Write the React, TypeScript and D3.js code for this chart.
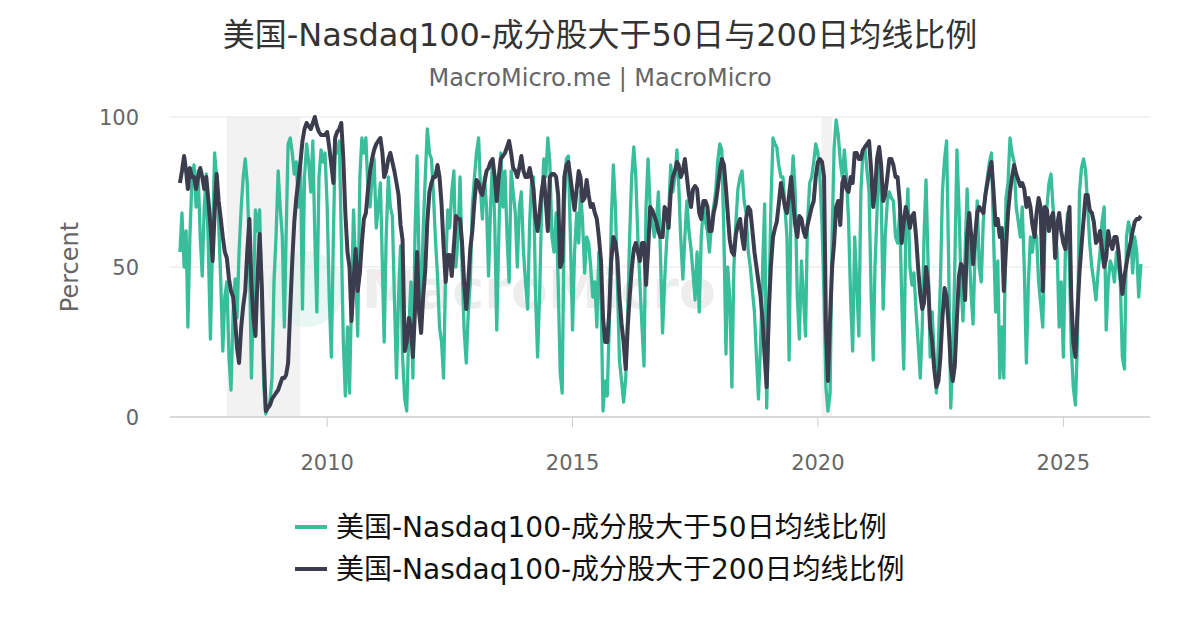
import * as d3 from 'd3';

// both series sampled twice a month from Jan 2007 (the 1st and the 16th)
const above50 = [
  55, 68, 50, 62, 30, 60, 80, 84, 70, 82, 60, 47, 70, 81, 55, 26, 60, 88, 80, 65, 45, 22, 40, 45,
  20, 9, 35, 46, 33, 55, 70, 80, 86, 78, 55, 13, 40, 69, 62, 69, 40, 10, 1, 3, 5, 13, 45, 60,
  82, 70, 60, 30, 60, 91, 93, 88, 81, 85, 70, 85, 36, 80, 91, 85, 75, 92, 60, 35, 80, 89, 85, 88,
  70, 40, 20, 60, 89, 88, 92, 60, 25, 7, 30, 8, 40, 69, 50, 27, 80, 93, 88, 93, 75, 70, 80, 86,
  63, 70, 78, 50, 25, 60, 80, 70, 67, 40, 13, 40, 57, 20, 6, 2, 30, 45, 13, 60, 87, 50, 36, 62,
  80, 96, 88, 86, 75, 60, 47, 30, 25, 13, 50, 69, 63, 75, 82, 50, 60, 80, 50, 29, 18, 35, 45, 70,
  80, 88, 93, 75, 66, 80, 70, 47, 70, 86, 65, 29, 60, 88, 70, 82, 60, 45, 82, 75, 68, 50, 70, 75,
  55, 45, 36, 65, 78, 80, 40, 20, 41, 70, 86, 80, 93, 85, 60, 55, 68, 45, 15, 8, 70, 86, 87, 60,
  29, 55, 68, 58, 75, 66, 48, 60, 58, 50, 40, 45, 30, 55, 40, 2, 12, 7, 30, 65, 84, 70, 45, 19,
  12, 5, 13, 35, 60, 80, 90, 80, 60, 45, 30, 17, 70, 86, 70, 65, 60, 65, 75, 55, 28, 45, 58, 68,
  84, 75, 80, 89, 78, 60, 46, 60, 72, 62, 56, 48, 39, 55, 35, 60, 70, 65, 62, 55, 65, 70, 75, 85,
  91, 89, 60, 21, 50, 40, 10, 50, 65, 76, 80, 82, 72, 68, 55, 50, 42, 35, 20, 6, 25, 50, 71, 3,
  35, 70, 93, 91, 90, 84, 80, 80, 70, 60, 19, 75, 87, 75, 40, 26, 52, 40, 27, 65, 78, 80, 85, 91,
  88, 80, 64, 40, 10, 2, 8, 60, 90, 99, 94, 85, 80, 89, 80, 66, 39, 22, 60, 45, 27, 75, 88, 90,
  82, 75, 40, 19, 50, 68, 88, 75, 36, 60, 72, 75, 73, 72, 60, 58, 68, 40, 16, 60, 76, 50, 44, 48,
  35, 25, 13, 30, 60, 79, 50, 20, 35, 20, 8, 25, 45, 75, 86, 92, 50, 3, 20, 50, 89, 70, 45, 32,
  55, 76, 55, 40, 31, 55, 72, 50, 45, 65, 75, 80, 85, 88, 60, 35, 52, 13, 30, 13, 73, 78, 93, 88,
  85, 70, 65, 60, 70, 50, 18, 45, 60, 55, 62, 60, 45, 38, 30, 60, 70, 78, 81, 70, 62, 55, 30, 45,
  20, 55, 68, 50, 23, 10, 4, 25, 75, 83, 86, 82, 70, 58, 50, 45, 39, 48, 55, 65, 70, 29, 45, 52,
  50, 45, 55, 50, 45, 20, 16, 60, 65, 62, 48, 60, 55, 40, 51,
];

const above200 = [
  78, 82, 87, 82, 76, 83, 80, 80, 76, 80, 83, 80, 76, 80, 72, 64, 52, 68, 81, 72, 66, 60, 55, 53,
  46, 42, 40, 32, 23, 18, 30, 37, 42, 55, 66, 44, 33, 27, 47, 61, 44, 20, 2, 3, 4, 6, 7, 8,
  9, 11, 13, 13, 14, 18, 36, 52, 65, 73, 79, 85, 92, 96, 98, 97, 96, 98, 100, 97, 95, 94, 94, 94,
  95, 90, 84, 78, 93, 95, 96, 98, 86, 68, 55, 50, 32, 45, 56, 42, 48, 58, 66, 68, 76, 82, 86, 89,
  91, 92, 93, 88, 80, 82, 86, 88, 85, 82, 78, 74, 64, 59, 22, 25, 33, 30, 20, 35, 55, 35, 28, 40,
  49, 65, 75, 78, 80, 80, 84, 80, 71, 57, 45, 54, 54, 47, 57, 67, 66, 66, 58, 45, 36, 45, 56, 62,
  72, 79, 78, 75, 74, 78, 82, 83, 85, 86, 80, 72, 80, 86, 87, 88, 90, 92, 88, 83, 82, 80, 83, 87,
  82, 80, 80, 83, 80, 76, 66, 62, 68, 75, 80, 72, 62, 80, 81, 81, 80, 74, 50, 52, 80, 84, 85, 80,
  74, 69, 76, 82, 80, 72, 73, 79, 74, 70, 71, 68, 66, 60, 52, 33, 25, 25, 35, 52, 60, 58, 53, 40,
  31, 25, 16, 30, 40, 49, 56, 58, 55, 52, 58, 58, 44, 55, 70, 69, 67, 65, 62, 60, 60, 70, 69, 63,
  75, 80, 82, 85, 84, 80, 82, 86, 80, 74, 70, 76, 77, 76, 68, 66, 72, 72, 70, 62, 62, 68, 71, 76,
  82, 86, 84, 76, 68, 59, 55, 54, 61, 64, 66, 60, 56, 66, 70, 69, 62, 55, 50, 45, 40, 32, 20, 10,
  35, 50, 60, 63, 65, 71, 78, 74, 70, 68, 74, 80, 72, 64, 60, 67, 66, 62, 60, 64, 67, 70, 72, 80,
  85, 86, 85, 80, 30, 12, 33, 50, 58, 70, 72, 64, 78, 80, 76, 75, 80, 78, 88, 88, 86, 86, 89, 90,
  91, 92, 82, 70, 75, 86, 90, 84, 72, 74, 80, 86, 86, 84, 80, 80, 72, 58, 65, 70, 67, 63, 67, 68,
  60, 50, 41, 36, 38, 50, 44, 30, 25, 16, 10, 12, 20, 33, 43, 40, 30, 17, 12, 17, 33, 47, 51, 50,
  39, 60, 68, 60, 51, 60, 68, 70, 69, 68, 74, 78, 82, 85, 75, 64, 66, 60, 63, 42, 56, 68, 75, 80,
  84, 81, 79, 77, 78, 76, 70, 73, 70, 64, 60, 68, 73, 70, 42, 70, 69, 62, 66, 68, 53, 64, 68, 62,
  58, 56, 64, 70, 40, 25, 20, 35, 48, 57, 66, 74, 74, 69, 68, 65, 58, 59, 62, 56, 50, 53, 62, 58,
  56, 60, 60, 55, 48, 41, 47, 51, 55, 58, 62, 65, 66, 66, 67,
];

const xTickYears = [2010, 2015, 2020, 2025];
const yTicks = [0, 50, 100];
const recessions = [
  ['2007-12-15', '2009-06-15'],
  ['2020-01-28', '2020-04-15'],
];

const title = '美国-Nasdaq100-成分股大于50日与200日均线比例';
const subtitle = 'MacroMicro.me | MacroMicro';
const seriesNames = ['美国-Nasdaq100-成分股大于50日均线比例', '美国-Nasdaq100-成分股大于200日均线比例'];

const GREEN = '#38be9b';
const DARK = '#3b3d4f';
const FONT = '"DejaVu Sans", "Noto Sans CJK SC", sans-serif';

type Pt = { date: Date; v: number };

export default function App() {
  const width = 1200;
  const height = 630;
  const plot = { left: 170, right: 1150, top: 117, bottom: 417 };

  const x = d3.scaleTime()
    .domain([new Date(2006, 9, 19), new Date(2026, 9, 8)])
    .range([plot.left, plot.right]);
  const y = d3.scaleLinear().domain([0, 100]).range([plot.bottom, plot.top]);

  // twice-monthly dates: 1st and 16th
  const dateAt = (k: number) => new Date(2007, Math.floor(k / 2), k % 2 ? 16 : 1);
  const s50: Pt[] = above50.map((v, k) => ({ date: dateAt(k), v }));
  const s200: Pt[] = above200.map((v, k) => ({ date: dateAt(k), v }));

  const line = d3.line<Pt>()
    .x(d => x(d.date))
    .y(d => y(d.v));

  return (
    <div style={{ position: 'absolute', left: 0, top: 0 }}>
      <svg width={width} height={height} style={{ display: 'block', fontFamily: FONT }}>
        <rect width={width} height={height} fill="#fff" />

        {/* recession bands */}
        {recessions.map(([a, b]) => (
          <rect key={a} x={x(new Date(a))} y={plot.top} width={x(new Date(b)) - x(new Date(a))}
            height={plot.bottom - plot.top} fill="#f2f2f2" />
        ))}

        {/* watermark */}
        <g opacity={0.5}>
          <circle cx={306} cy={289} r={38} fill="#d3f1e8" />
          <text x={362} y={308} fontSize={54} fill="#dcdcdc" fontWeight="bold">MacroMicro</text>
        </g>

        {/* grid + y axis */}
        {yTicks.map(t => (
          <line key={t} x1={plot.left} x2={plot.right} y1={y(t)} y2={y(t)}
            stroke={t === 0 ? '#cccccc' : '#e6e6e6'} strokeWidth={t === 0 ? 1.5 : 1} />
        ))}
        {yTicks.map(t => (
          <text key={t} x={139} y={y(t) + 7.5} textAnchor="end" fontSize={21} fill="#666">{t}</text>
        ))}
        <text transform={`translate(78,${(plot.top + plot.bottom) / 2}) rotate(-90)`} textAnchor="middle"
          fontSize={24} fill="#666">Percent</text>

        {/* x axis */}
        {xTickYears.map(yr => {
          const px = x(new Date(yr, 0, 1));
          return (
            <g key={yr}>
              <line x1={px} x2={px} y1={plot.bottom} y2={plot.bottom + 10} stroke="#cccccc" />
              <text x={px} y={470} textAnchor="middle" fontSize={21} fill="#666">{yr}</text>
            </g>
          );
        })}

        {/* series */}
        <path d={line(s50) ?? ''} fill="none" stroke={GREEN} strokeWidth={3.3} strokeLinejoin="round" />
        <path d={line(s200) ?? ''} fill="none" stroke={DARK} strokeWidth={4} strokeLinejoin="round" />

        {/* titles */}
        <text x={600} y={46} textAnchor="middle" fontSize={32} fill="#333">{title}</text>
        <text x={600} y={86} textAnchor="middle" fontSize={24} fill="#666">{subtitle}</text>

        {/* legend */}
        {seriesNames.map((name, i) => (
          <g key={name} transform={`translate(0,${527 + i * 42})`}>
            <line x1={295} x2={327} y1={0} y2={0} stroke={i === 0 ? GREEN : DARK} strokeWidth={4} />
            <text x={336} y={10} fontSize={28} fill="#111">{name}</text>
          </g>
        ))}
      </svg>
    </div>
  );
}
